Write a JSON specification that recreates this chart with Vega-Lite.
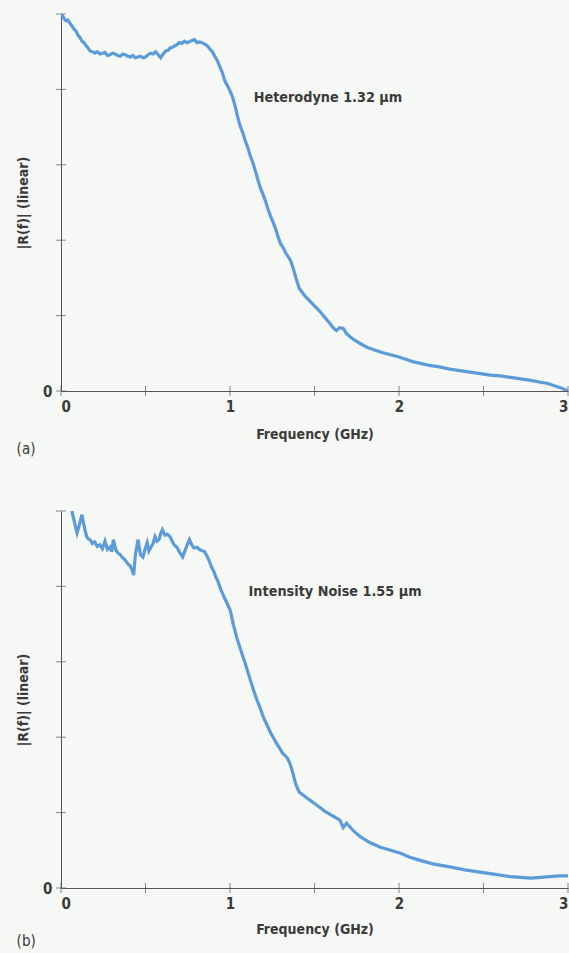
{
  "$schema": "https://vega.github.io/schema/vega-lite/v6.json",
  "background": "#f6f8f5",
  "padding": {"left": 16, "top": 13, "right": 0, "bottom": 16},
  "spacing": 53,
  "config": {
    "font": "DejaVu Sans Condensed, sans-serif",
    "view": {"stroke": null},
    "axis": {
      "grid": false,
      "ticks": false,
      "domainColor": "#555555",
      "labelFontSize": 15,
      "labelFontWeight": "bold",
      "labelColor": "#3a3a3a",
      "titleFontSize": 14,
      "titleFontWeight": "bold",
      "titleColor": "#3a3a3a"
    },
    "tick": {"color": "#555555", "thickness": 1, "size": 10},
    "title": {"fontSize": 15, "fontWeight": "normal", "color": "#3a3a3a", "orient": "bottom", "anchor": "start", "frame": "bounds", "offset": 0}
  },
  "datasets": {
    "a": [
      {"f": 0.006, "v": 4.99}, {"f": 0.02, "v": 4.93}, {"f": 0.03, "v": 4.91}, {"f": 0.04, "v": 4.92}, {"f": 0.053, "v": 4.88}, {"f": 0.065, "v": 4.84}, {"f": 0.077, "v": 4.8},
      {"f": 0.09, "v": 4.77}, {"f": 0.1, "v": 4.72}, {"f": 0.112, "v": 4.69}, {"f": 0.124, "v": 4.64}, {"f": 0.136, "v": 4.62}, {"f": 0.148, "v": 4.58}, {"f": 0.16, "v": 4.55}, {"f": 0.172, "v": 4.51},
      {"f": 0.186, "v": 4.5}, {"f": 0.2, "v": 4.48}, {"f": 0.215, "v": 4.5}, {"f": 0.23, "v": 4.47}, {"f": 0.245, "v": 4.48}, {"f": 0.26, "v": 4.49}, {"f": 0.275, "v": 4.45}, {"f": 0.29, "v": 4.46},
      {"f": 0.305, "v": 4.48}, {"f": 0.32, "v": 4.47}, {"f": 0.335, "v": 4.45}, {"f": 0.35, "v": 4.44}, {"f": 0.365, "v": 4.47}, {"f": 0.38, "v": 4.46}, {"f": 0.395, "v": 4.44}, {"f": 0.41, "v": 4.43},
      {"f": 0.425, "v": 4.45}, {"f": 0.44, "v": 4.42}, {"f": 0.455, "v": 4.43}, {"f": 0.47, "v": 4.44}, {"f": 0.485, "v": 4.42}, {"f": 0.5, "v": 4.43}, {"f": 0.515, "v": 4.46}, {"f": 0.53, "v": 4.48},
      {"f": 0.545, "v": 4.47}, {"f": 0.56, "v": 4.5}, {"f": 0.575, "v": 4.46}, {"f": 0.59, "v": 4.42}, {"f": 0.605, "v": 4.47}, {"f": 0.62, "v": 4.51}, {"f": 0.635, "v": 4.52}, {"f": 0.645, "v": 4.55},
      {"f": 0.66, "v": 4.56}, {"f": 0.675, "v": 4.58}, {"f": 0.69, "v": 4.6}, {"f": 0.7, "v": 4.62}, {"f": 0.715, "v": 4.61}, {"f": 0.73, "v": 4.64}, {"f": 0.745, "v": 4.62}, {"f": 0.76, "v": 4.63},
      {"f": 0.775, "v": 4.65}, {"f": 0.79, "v": 4.66}, {"f": 0.805, "v": 4.62}, {"f": 0.82, "v": 4.63}, {"f": 0.835, "v": 4.62}, {"f": 0.85, "v": 4.6}, {"f": 0.865, "v": 4.58}, {"f": 0.88, "v": 4.54},
      {"f": 0.895, "v": 4.5}, {"f": 0.91, "v": 4.44}, {"f": 0.925, "v": 4.38}, {"f": 0.94, "v": 4.3}, {"f": 0.955, "v": 4.22}, {"f": 0.97, "v": 4.11}, {"f": 0.985, "v": 4.05}, {"f": 1.0, "v": 3.98},
      {"f": 1.015, "v": 3.9}, {"f": 1.03, "v": 3.78}, {"f": 1.045, "v": 3.64}, {"f": 1.06, "v": 3.51}, {"f": 1.075, "v": 3.43}, {"f": 1.09, "v": 3.32}, {"f": 1.105, "v": 3.23}, {"f": 1.12, "v": 3.12},
      {"f": 1.135, "v": 3.03}, {"f": 1.15, "v": 2.92}, {"f": 1.165, "v": 2.8}, {"f": 1.18, "v": 2.69}, {"f": 1.195, "v": 2.61}, {"f": 1.21, "v": 2.52}, {"f": 1.225, "v": 2.41}, {"f": 1.24, "v": 2.32},
      {"f": 1.255, "v": 2.24}, {"f": 1.27, "v": 2.15}, {"f": 1.285, "v": 2.04}, {"f": 1.3, "v": 1.95}, {"f": 1.315, "v": 1.9}, {"f": 1.33, "v": 1.83}, {"f": 1.345, "v": 1.78}, {"f": 1.36, "v": 1.72},
      {"f": 1.375, "v": 1.62}, {"f": 1.39, "v": 1.5}, {"f": 1.41, "v": 1.36}, {"f": 1.44, "v": 1.27}, {"f": 1.47, "v": 1.2}, {"f": 1.5, "v": 1.13}, {"f": 1.53, "v": 1.06},
      {"f": 1.56, "v": 0.98}, {"f": 1.59, "v": 0.9}, {"f": 1.61, "v": 0.84}, {"f": 1.63, "v": 0.8}, {"f": 1.65, "v": 0.84}, {"f": 1.67, "v": 0.83}, {"f": 1.69, "v": 0.76}, {"f": 1.71, "v": 0.72},
      {"f": 1.74, "v": 0.67}, {"f": 1.77, "v": 0.63}, {"f": 1.81, "v": 0.58}, {"f": 1.86, "v": 0.54}, {"f": 1.9, "v": 0.51}, {"f": 1.95, "v": 0.48}, {"f": 2.0, "v": 0.45}, {"f": 2.04, "v": 0.42},
      {"f": 2.08, "v": 0.39}, {"f": 2.12, "v": 0.37}, {"f": 2.18, "v": 0.34}, {"f": 2.24, "v": 0.32}, {"f": 2.3, "v": 0.29}, {"f": 2.36, "v": 0.27}, {"f": 2.42, "v": 0.25}, {"f": 2.48, "v": 0.23},
      {"f": 2.54, "v": 0.21}, {"f": 2.6, "v": 0.2}, {"f": 2.66, "v": 0.18}, {"f": 2.72, "v": 0.16}, {"f": 2.78, "v": 0.14}, {"f": 2.83, "v": 0.12}, {"f": 2.88, "v": 0.1}, {"f": 2.92, "v": 0.07},
      {"f": 2.96, "v": 0.04}, {"f": 3.0, "v": 0.0}
    ],
    "b": [
      {"f": 0.065, "v": 5.0}, {"f": 0.071, "v": 4.93}, {"f": 0.077, "v": 4.88}, {"f": 0.085, "v": 4.8}, {"f": 0.095, "v": 4.71}, {"f": 0.104, "v": 4.78}, {"f": 0.112, "v": 4.85},
      {"f": 0.124, "v": 4.95}, {"f": 0.133, "v": 4.84}, {"f": 0.142, "v": 4.75}, {"f": 0.152, "v": 4.66}, {"f": 0.162, "v": 4.63}, {"f": 0.172, "v": 4.62}, {"f": 0.186, "v": 4.57}, {"f": 0.2, "v": 4.59},
      {"f": 0.215, "v": 4.53}, {"f": 0.23, "v": 4.55}, {"f": 0.245, "v": 4.5}, {"f": 0.26, "v": 4.6}, {"f": 0.275, "v": 4.49}, {"f": 0.29, "v": 4.52}, {"f": 0.3, "v": 4.46}, {"f": 0.31, "v": 4.62},
      {"f": 0.325, "v": 4.48}, {"f": 0.338, "v": 4.44}, {"f": 0.35, "v": 4.42}, {"f": 0.365, "v": 4.38}, {"f": 0.38, "v": 4.35}, {"f": 0.395, "v": 4.3}, {"f": 0.41, "v": 4.27}, {"f": 0.42, "v": 4.22},
      {"f": 0.43, "v": 4.15}, {"f": 0.44, "v": 4.42}, {"f": 0.456, "v": 4.62}, {"f": 0.47, "v": 4.42},
      {"f": 0.485, "v": 4.39}, {"f": 0.498, "v": 4.5}, {"f": 0.51, "v": 4.58}, {"f": 0.52, "v": 4.47}, {"f": 0.53, "v": 4.51}, {"f": 0.545, "v": 4.57}, {"f": 0.556, "v": 4.66}, {"f": 0.568, "v": 4.6},
      {"f": 0.58, "v": 4.62}, {"f": 0.59, "v": 4.7}, {"f": 0.6, "v": 4.75}, {"f": 0.615, "v": 4.68}, {"f": 0.63, "v": 4.69}, {"f": 0.645, "v": 4.66},
      {"f": 0.658, "v": 4.6}, {"f": 0.67, "v": 4.55}, {"f": 0.686, "v": 4.52}, {"f": 0.7, "v": 4.46}, {"f": 0.72, "v": 4.39},
      {"f": 0.733, "v": 4.47}, {"f": 0.745, "v": 4.54}, {"f": 0.76, "v": 4.62}, {"f": 0.774, "v": 4.55}, {"f": 0.787, "v": 4.51}, {"f": 0.805, "v": 4.52},
      {"f": 0.818, "v": 4.49}, {"f": 0.83, "v": 4.48}, {"f": 0.85, "v": 4.46}, {"f": 0.862, "v": 4.41}, {"f": 0.875, "v": 4.35}, {"f": 0.89, "v": 4.26},
      {"f": 0.904, "v": 4.2}, {"f": 0.917, "v": 4.12}, {"f": 0.93, "v": 4.06}, {"f": 0.94, "v": 3.99}, {"f": 0.953, "v": 3.92}, {"f": 0.965, "v": 3.86}, {"f": 0.98, "v": 3.79},
      {"f": 1.0, "v": 3.69}, {"f": 1.01, "v": 3.6}, {"f": 1.02, "v": 3.49}, {"f": 1.03, "v": 3.41}, {"f": 1.04, "v": 3.32}, {"f": 1.06, "v": 3.18},
      {"f": 1.075, "v": 3.08}, {"f": 1.09, "v": 2.98}, {"f": 1.105, "v": 2.87}, {"f": 1.12, "v": 2.76}, {"f": 1.14, "v": 2.62}, {"f": 1.16, "v": 2.49}, {"f": 1.178, "v": 2.39}, {"f": 1.195, "v": 2.28},
      {"f": 1.215, "v": 2.18}, {"f": 1.24, "v": 2.06}, {"f": 1.26, "v": 1.98}, {"f": 1.28, "v": 1.9}, {"f": 1.295, "v": 1.85}, {"f": 1.31, "v": 1.79}, {"f": 1.325, "v": 1.76}, {"f": 1.34, "v": 1.72},
      {"f": 1.355, "v": 1.65}, {"f": 1.37, "v": 1.54}, {"f": 1.39, "v": 1.37}, {"f": 1.41, "v": 1.27}, {"f": 1.44, "v": 1.22}, {"f": 1.47, "v": 1.17},
      {"f": 1.5, "v": 1.12}, {"f": 1.53, "v": 1.07}, {"f": 1.56, "v": 1.02}, {"f": 1.59, "v": 0.98}, {"f": 1.62, "v": 0.94}, {"f": 1.65, "v": 0.9}, {"f": 1.67, "v": 0.8},
      {"f": 1.69, "v": 0.86}, {"f": 1.73, "v": 0.76}, {"f": 1.77, "v": 0.68}, {"f": 1.83, "v": 0.6}, {"f": 1.89, "v": 0.54}, {"f": 1.95, "v": 0.5}, {"f": 2.01, "v": 0.46},
      {"f": 2.06, "v": 0.41}, {"f": 2.12, "v": 0.37}, {"f": 2.2, "v": 0.32}, {"f": 2.3, "v": 0.28}, {"f": 2.39, "v": 0.24}, {"f": 2.48, "v": 0.21}, {"f": 2.57, "v": 0.18}, {"f": 2.66, "v": 0.15},
      {"f": 2.72, "v": 0.14}, {"f": 2.78, "v": 0.13}, {"f": 2.84, "v": 0.14}, {"f": 2.89, "v": 0.15}, {"f": 2.95, "v": 0.16}, {"f": 3.0, "v": 0.16}
    ],
    "xticks": [{"f": 0, "v": 0}, {"f": 0.5, "v": 0}, {"f": 1, "v": 0}, {"f": 1.5, "v": 0}, {"f": 2, "v": 0}, {"f": 2.5, "v": 0}, {"f": 3, "v": 0}],
    "yticks": [{"f": 0, "v": 0}, {"f": 0, "v": 1}, {"f": 0, "v": 2}, {"f": 0, "v": 3}, {"f": 0, "v": 4}, {"f": 0, "v": 5}]
  },
  "vconcat": [
    {
      "title": {"text": "(a)", "offset": 1},
      "width": 507,
      "height": 377,
      "encoding": {
        "x": {"field": "f", "type": "quantitative", "scale": {"domain": [0, 3], "nice": false}, "axis": {"title": "Frequency (GHz)", "values": [0, 1, 2, 3], "format": "d", "labelPadding": 8, "titlePadding": 13}},
        "y": {"field": "v", "type": "quantitative", "scale": {"domain": [0, 5], "nice": false}, "axis": {"title": "|R(f)| (linear)", "values": [0], "format": "d", "labelPadding": 9, "titlePadding": 12}}
      },
      "layer": [
        {"data": {"name": "xticks"}, "mark": {"type": "tick", "orient": "vertical"}},
        {"data": {"name": "yticks"}, "mark": {"type": "tick", "orient": "horizontal"}},
        {
          "data": {"name": "a"},
          "mark": {"type": "line", "color": "#5b9bd8", "strokeWidth": 3.2, "clip": true}
        },
        {
          "data": {"values": [{"f": 1.14, "v": 3.89, "label": "Heterodyne 1.32 μm"}]},
          "mark": {"type": "text", "align": "left", "baseline": "middle", "fontSize": 14.3, "fontWeight": "bold", "color": "#3a3a3a"},
          "encoding": {"text": {"field": "label"}}
        }
      ]
    },
    {
      "title": {"text": "(b)", "offset": -2},
      "width": 507,
      "height": 377,
      "encoding": {
        "x": {"field": "f", "type": "quantitative", "scale": {"domain": [0, 3], "nice": false}, "axis": {"title": "Frequency (GHz)", "values": [0, 1, 2, 3], "format": "d", "labelPadding": 8, "titlePadding": 11}},
        "y": {"field": "v", "type": "quantitative", "scale": {"domain": [0, 5], "nice": false}, "axis": {"title": "|R(f)| (linear)", "values": [0], "format": "d", "labelPadding": 9, "titlePadding": 12}}
      },
      "layer": [
        {"data": {"name": "xticks"}, "mark": {"type": "tick", "orient": "vertical"}},
        {"data": {"name": "yticks"}, "mark": {"type": "tick", "orient": "horizontal"}},
        {
          "data": {"name": "b"},
          "mark": {"type": "line", "color": "#5b9bd8", "strokeWidth": 3.2, "clip": true}
        },
        {
          "data": {"values": [{"f": 1.11, "v": 3.93, "label": "Intensity Noise 1.55 μm"}]},
          "mark": {"type": "text", "align": "left", "baseline": "middle", "fontSize": 14.3, "fontWeight": "bold", "color": "#3a3a3a"},
          "encoding": {"text": {"field": "label"}}
        }
      ]
    }
  ]
}
